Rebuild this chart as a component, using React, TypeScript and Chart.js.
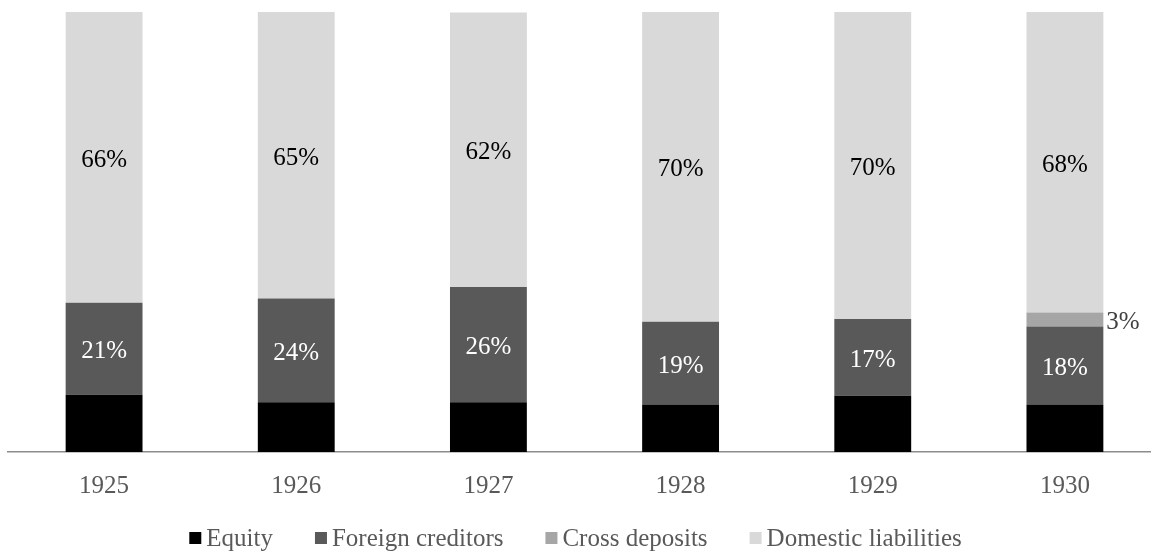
import React, { useEffect, useRef } from "react";
import { Chart, registerables } from "chart.js";

Chart.register(...registerables);

const years = ["1925", "1926", "1927", "1928", "1929", "1930"];
const equity = [13.0, 11.3, 11.3, 10.8, 12.8, 10.8];
const foreignCreditors = [20.9, 23.6, 26.2, 18.8, 17.4, 17.7];
const crossDeposits = [0, 0, 0, 0, 0, 3.2];
const domesticLiabilities = [66.1, 65.1, 62.4, 70.4, 69.8, 68.3];

const seriesNames = ["Equity", "Foreign creditors", "Cross deposits", "Domestic liabilities"];
const seriesColors = ["#000000", "#595959", "#a6a6a6", "#d9d9d9"];

const FONT = '"Liberation Serif", "Times New Roman", serif';
const FS = 25;

const labelPlugin = {
  id: "segLabels",
  afterDatasetsDraw(chart: any) {
    const ctx = chart.ctx;
    ctx.save();
    ctx.font = `${FS}px ${FONT}`;
    ctx.textBaseline = "middle";
    chart.data.datasets.forEach((ds: any, di: number) => {
      const meta = chart.getDatasetMeta(di);
      meta.data.forEach((el: any, i: number) => {
        const v = ds.data[i];
        if (!v) return;
        const props = el.getProps(["x", "y", "base", "width"], true);
        const txt = Math.round(v) + "%";
        if (di === 1) {
          ctx.fillStyle = "#ffffff";
          ctx.textAlign = "center";
          ctx.fillText(txt, props.x, (props.y + props.base) / 2 + 3);
        } else if (di === 3) {
          ctx.fillStyle = "#000000";
          ctx.textAlign = "center";
          ctx.fillText(txt, props.x, (props.y + props.base) / 2 + 3);
        } else if (di === 2) {
          ctx.fillStyle = "#404040";
          ctx.textAlign = "left";
          ctx.fillText(txt, props.x + props.width / 2 + 3, (props.y + props.base) / 2 + 3);
        }
      });
    });
    ctx.restore();
  },
};

const legendPlugin = {
  id: "customLegend",
  afterDraw(chart: any) {
    const ctx = chart.ctx;
    ctx.save();
    ctx.font = `${FS}px ${FONT}`;
    ctx.textBaseline = "middle";
    ctx.textAlign = "left";
    const box = 12;
    const gap = 5;
    const spacing = 42;
    const widths = seriesNames.map((n) => box + gap + ctx.measureText(n).width);
    const total = widths.reduce((a, b) => a + b, 0) + spacing * (seriesNames.length - 1);
    const cx = 575.5;
    let x = cx - total / 2;
    const cy = 538;
    seriesNames.forEach((n, i) => {
      ctx.fillStyle = seriesColors[i];
      ctx.fillRect(x, cy - box / 2, box, box);
      ctx.fillStyle = "#595959";
      ctx.fillText(n, x + box + gap, cy + 1);
      x += widths[i] + spacing;
    });
    ctx.restore();
  },
};

export default function App() {
  const ref = useRef<HTMLCanvasElement>(null);
  useEffect(() => {
    if (!ref.current) return;
    const chart = new Chart(ref.current, {
      type: "bar",
      data: {
        labels: years,
        datasets: [
          { label: seriesNames[0], data: equity, backgroundColor: seriesColors[0] },
          { label: seriesNames[1], data: foreignCreditors, backgroundColor: seriesColors[1] },
          { label: seriesNames[2], data: crossDeposits, backgroundColor: seriesColors[2] },
          { label: seriesNames[3], data: domesticLiabilities, backgroundColor: seriesColors[3] },
        ],
      },
      options: {
        responsive: false,
        animation: false,
        datasets: { bar: { barPercentage: 0.4, categoryPercentage: 1.0 } },
        layout: { padding: { left: 8, top: 12, right: 0, bottom: 33 } },
        plugins: { legend: { display: false }, tooltip: { enabled: false } },
        scales: {
          x: {
            stacked: true,
            grid: { display: true, drawOnChartArea: false, drawTicks: false },
            border: { display: true, color: "#8c8c8c", width: 1.5 },
            ticks: { color: "#595959", font: { family: FONT, size: FS }, padding: 19 },
          },
          y: { stacked: true, display: false, min: 0, max: 100 },
        },
      },
      plugins: [labelPlugin, legendPlugin],
    });
    return () => chart.destroy();
  }, []);
  return (
    <div style={{ position: "fixed", left: 0, top: 0, width: 1161, height: 553 }}>
      <canvas ref={ref} width={1161} height={553} style={{ width: 1161, height: 553 }} />
    </div>
  );
}
